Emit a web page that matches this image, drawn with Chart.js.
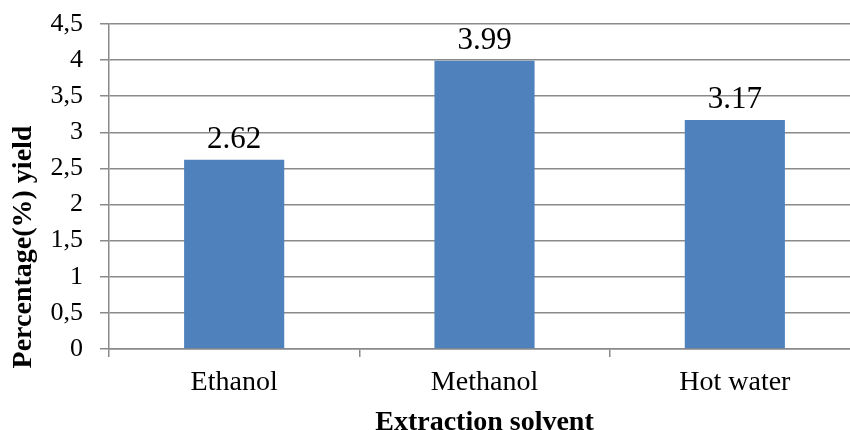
<!DOCTYPE html>
<html>
<head>
<meta charset="utf-8">
<script src="https://cdn.jsdelivr.net/npm/chart.js@4/dist/chart.umd.min.js"></script>
<style>
  html, body { margin: 0; padding: 0; background: #ffffff; overflow: hidden; }
  #wrap { position: relative; width: 860px; height: 430px; }
</style>
</head>
<body>
<div id="wrap"><canvas id="chart"></canvas></div>
<script>
// Yield by extraction solvent
const categories = ['Ethanol', 'Methanol', 'Hot water'];
const yieldValues = [2.62, 3.99, 3.17];
const yTicks = [0, 0.5, 1, 1.5, 2, 2.5, 3, 3.5, 4, 4.5];
const xTitle = 'Extraction solvent';
const yTitle = 'Percentage(%) yield';

const SERIF = '"Liberation Serif", "Times New Roman", serif';
const GRID = '#8a8a8a';

// Axis titles and value labels above the bars
const annotate = {
  id: 'annotate',
  afterDatasetsDraw(chart) {
    const { ctx, chartArea } = chart;
    ctx.save();
    ctx.fillStyle = '#000';

    // value labels
    ctx.font = '31px ' + SERIF;
    ctx.textAlign = 'center';
    ctx.textBaseline = 'alphabetic';
    const meta = chart.getDatasetMeta(0);
    meta.data.forEach((bar, i) => {
      ctx.fillText(yieldValues[i].toFixed(2), bar.x, bar.y - 12);
    });

    // x axis title
    ctx.font = 'bold 28px ' + SERIF;
    ctx.fillText(xTitle, (chartArea.left + chartArea.right) / 2, 430);

    // y axis title
    ctx.translate(31, 247);
    ctx.rotate(-Math.PI / 2);
    ctx.fillText(yTitle, 0, 0);
    ctx.restore();
  }
};

new Chart(document.getElementById('chart'), {
  type: 'bar',
  data: {
    labels: categories,
    datasets: [{
      data: yieldValues,
      backgroundColor: '#4f81bd',
      borderWidth: 0,
      barPercentage: 0.4,
      categoryPercentage: 1.0
    }]
  },
  options: {
    responsive: true,
    maintainAspectRatio: false,
    animation: false,
    layout: { autoPadding: false, padding: { top: 24, right: 0, bottom: 0, left: 0 } },
    plugins: {
      legend: { display: false },
      tooltip: { enabled: false }
    },
    scales: {
      x: {
        grid: {
          display: true,
          drawOnChartArea: false,
          drawTicks: true,
          tickLength: 8,
          offset: true,
          color: GRID,
          lineWidth: 1.5
        },
        border: { display: true, color: GRID, width: 1.5 },
        ticks: {
          color: '#000',
          font: { family: SERIF, size: 28 },
          padding: 9,
          maxRotation: 0
        },
        afterFit(scale) {
          scale.height = 81;
          scale.paddingLeft = 0;
          scale.paddingRight = 0;
        }
      },
      y: {
        min: 0,
        max: 4.5,
        afterBuildTicks(scale) {
          scale.ticks = yTicks.map(v => ({ value: v }));
        },
        grid: {
          color: GRID,
          lineWidth: 1.5,
          tickLength: 9,
          drawTicks: true
        },
        border: { display: true, color: GRID, width: 1.5 },
        ticks: {
          color: '#000',
          font: { family: SERIF, size: 26 },
          padding: 17,
          callback: v => String(v).replace('.', ',')
        },
        afterFit(scale) {
          scale.width = 109;
          scale.paddingTop = 0;
          scale.paddingBottom = 0;
        }
      }
    }
  },
  plugins: [annotate]
});
</script>
</body>
</html>
